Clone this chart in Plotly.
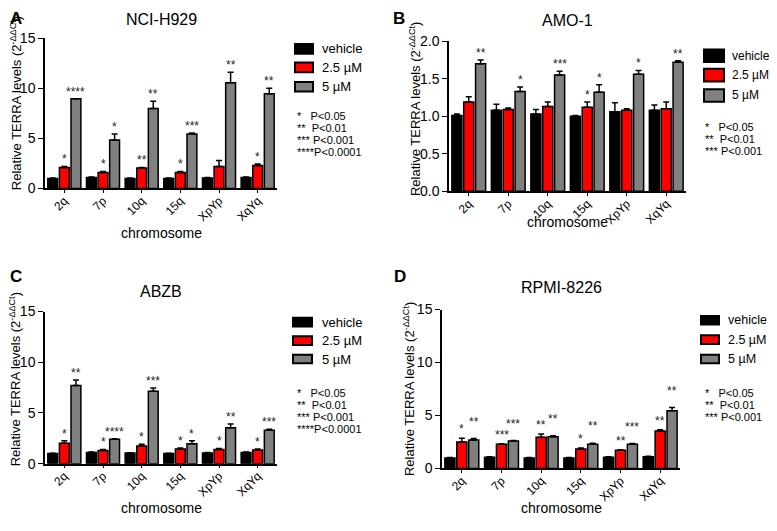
import plotly.graph_objects as go
from plotly.subplots import make_subplots

chromosomes = ["2q", "7p", "10q", "15q", "XpYp", "XqYq"]
treatments = ["vehicle", "2.5 µM", "5 µM"]
colors = ["#000000", "#ff0000", "#808080"]

# ---------- A: NCI-H929 ----------
a_vehicle = [1.0, 1.1, 1.0, 1.0, 1.05, 1.1]
a_vehicle_err = [0.05, 0.05, 0.05, 0.05, 0.05, 0.05]
a_low = [2.1, 1.6, 2.05, 1.6, 2.2, 2.3]
a_low_err = [0.1, 0.1, 0.05, 0.1, 0.6, 0.15]
a_high = [8.95, 4.85, 8.0, 5.45, 10.55, 9.45]
a_high_err = [0.0, 0.6, 0.7, 0.1, 1.05, 0.55]
a_low_stars = ["*", "*", "**", "*", "", "*"]
a_high_stars = ["****", "*", "**", "***", "**", "**"]

# ---------- B: AMO-1 ----------
b_vehicle = [1.01, 1.08, 1.03, 1.0, 1.06, 1.08]
b_vehicle_err = [0.02, 0.08, 0.06, 0.01, 0.12, 0.07]
b_low = [1.19, 1.09, 1.13, 1.12, 1.08, 1.10]
b_low_err = [0.07, 0.02, 0.06, 0.07, 0.02, 0.09]
b_high = [1.70, 1.33, 1.55, 1.32, 1.56, 1.72]
b_high_err = [0.05, 0.06, 0.05, 0.10, 0.05, 0.02]
b_low_stars = ["", "", "", "*", "", ""]
b_high_stars = ["**", "*", "***", "*", "*", "**"]

# ---------- C: ABZB ----------
c_vehicle = [1.0, 1.1, 1.05, 1.0, 1.05, 1.1]
c_vehicle_err = [0.03, 0.05, 0.03, 0.03, 0.05, 0.05]
c_low = [2.0, 1.3, 1.75, 1.45, 1.4, 1.35]
c_low_err = [0.25, 0.1, 0.15, 0.1, 0.1, 0.1]
c_high = [7.7, 2.4, 7.15, 1.95, 3.55, 3.3]
c_high_err = [0.55, 0.05, 0.3, 0.3, 0.35, 0.1]
c_low_stars = ["*", "*", "*", "*", "*", "*"]
c_high_stars = ["**", "****", "***", "*", "**", "***"]

# ---------- D: RPMI-8226 ----------
d_vehicle = [1.0, 1.05, 1.0, 1.0, 1.05, 1.1]
d_vehicle_err = [0.03, 0.05, 0.03, 0.03, 0.05, 0.05]
d_low = [2.5, 2.28, 2.95, 1.83, 1.73, 3.55]
d_low_err = [0.35, 0.05, 0.3, 0.1, 0.05, 0.1]
d_high = [2.68, 2.59, 3.0, 2.28, 2.3, 5.45]
d_high_err = [0.15, 0.05, 0.1, 0.1, 0.05, 0.3]
d_low_stars = ["*", "***", "**", "*", "**", "**"]
d_high_stars = ["**", "***", "**", "**", "***", "**"]

p_stars = ["*", "**", "***", "****"]
p_values = ["P<0.05", "P<0.01", "P<0.001", "P<0.0001"]

Y_TITLE = "Relative TERRA levels (2<sup>-ΔΔCt</sup>)"

# layout per panel, in screenshot pixels of the 777x531 window
panels = [
    dict(title="NCI-H929", letter="A",
         means=[a_vehicle, a_low, a_high], errs=[a_vehicle_err, a_low_err, a_high_err],
         stars=[a_low_stars, a_high_stars], yrange=[0, 15], dtick=5, fmt="",
         xdom=[45, 277], ydom=[186, 31], title_y=12, letter_xy=(8, 11), xt_y=232,
         yt_xy=(16, 98),
         leg=dict(x=295, w=18, h=10, rows=[42, 61, 81], tx=320, size=13),
         pv=dict(x=295, y=111, n=4), star_shift=(0, 0)),
    dict(title="AMO-1", letter="B",
         means=[b_vehicle, b_low, b_high], errs=[b_vehicle_err, b_low_err, b_high_err],
         stars=[b_low_stars, b_high_stars], yrange=[0, 2], dtick=0.5, fmt=".1f",
         xdom=[449, 686], ydom=[189, 34], title_y=13, letter_xy=(391, 11), xt_y=221,
         yt_xy=(415, 104),
         leg=dict(x=704, w=20, h=13, rows=[49, 69, 90], tx=730, size=12),
         pv=dict(x=703, y=123, n=3), star_shift=(0, 0)),
    dict(title="ABZB", letter="C",
         means=[c_vehicle, c_low, c_high], errs=[c_vehicle_err, c_low_err, c_high_err],
         stars=[c_low_stars, c_high_stars], yrange=[0, 15], dtick=5, fmt="",
         xdom=[45, 277], ydom=[470, 313], title_y=292, letter_xy=(8, 277), xt_y=516,
         yt_xy=(15, 383),
         leg=dict(x=293, w=19, h=9, rows=[324, 343, 362], tx=320, size=13),
         pv=dict(x=295, y=397, n=4), star_shift=(0, 0)),
    dict(title="RPMI-8226", letter="D",
         means=[d_vehicle, d_low, d_high], errs=[d_vehicle_err, d_low_err, d_high_err],
         stars=[d_low_stars, d_high_stars], yrange=[0, 15], dtick=5, fmt="",
         xdom=[442, 680], ydom=[475, 311], title_y=288, letter_xy=(392, 277), xt_y=516,
         yt_xy=(409, 393),
         leg=dict(x=701, w=18, h=9, rows=[322, 342, 362], tx=726, size=12.5),
         pv=dict(x=703, y=397, n=3), star_shift=(2, 10)),
]

PAGE = 8  # the html body keeps its default 8px margin
W, H = 777 - 2 * PAGE, 531 - 2 * PAGE
FONT = "Arial, Liberation Sans, sans-serif"
BARGAP, GROUPGAP = 0.1, 0.15
slot = (1 - BARGAP) / 3


def px(x, y):
    return (x - PAGE) / W, 1 - (y - PAGE) / H


def paper_text(fig, xy, text, size, xanchor="center", **kw):
    x, y = px(*xy)
    fig.add_annotation(x=x, y=y, text=text, showarrow=False, xref="paper",
                       yref="paper", font=dict(size=size), xanchor=xanchor,
                       yanchor="middle", **kw)


fig = make_subplots(rows=2, cols=2)
shapes = []

for k, p in enumerate(panels):
    row, col = k // 2 + 1, k % 2 + 1
    for i, name in enumerate(treatments):
        fig.add_trace(go.Bar(
            x=chromosomes, y=p["means"][i], name=name, showlegend=False,
            marker=dict(color=colors[i], line=dict(color="black", width=1.5)),
            error_y=dict(type="data", symmetric=False, array=p["errs"][i],
                         arrayminus=[0] * len(chromosomes),
                         color="black", thickness=1.5, width=3),
        ), row=row, col=col)

    sfx = "" if k == 0 else str(k + 1)
    xa, ya = px(p["xdom"][0], p["ydom"][0])
    xb, yb = px(p["xdom"][1], p["ydom"][1])
    fig.update_layout({"xaxis" + sfx: dict(domain=[xa, xb]),
                       "yaxis" + sfx: dict(domain=[ya, yb])})
    fig.update_yaxes(range=p["yrange"], dtick=p["dtick"], tickformat=p["fmt"],
                     row=row, col=col)

    # significance stars above the treated bars
    for j, stars in enumerate(p["stars"]):
        idx = j + 1
        offset = (idx - 1) * slot
        for c, s in enumerate(stars):
            if not s:
                continue
            top = p["means"][idx][c] + p["errs"][idx][c]
            fig.add_annotation(x=c + offset, y=top, text=s, showarrow=False,
                               yanchor="bottom", yshift=-2 + p["star_shift"][j],
                               font=dict(size=12, color="#222"),
                               xref="x" + sfx, yref="y" + sfx)

    cx = (p["xdom"][0] + p["xdom"][1]) / 2
    paper_text(fig, (cx, p["title_y"]), p["title"], 16)
    paper_text(fig, p["letter_xy"], "<b>%s</b>" % p["letter"], 17, xanchor="left")
    paper_text(fig, (cx, p["xt_y"]), "chromosome", 14)
    paper_text(fig, p["yt_xy"], Y_TITLE, 13, textangle=-90)

    # legend drawn by hand: swatches + labels
    lg = p["leg"]
    for i, name in enumerate(treatments):
        r = lg["rows"][i]
        sx0, sy0 = px(lg["x"], r + lg["h"] / 2)
        sx1, sy1 = px(lg["x"] + lg["w"], r - lg["h"] / 2)
        shapes.append(dict(type="rect", xref="paper", yref="paper",
                           x0=sx0, y0=sy0, x1=sx1, y1=sy1,
                           fillcolor=colors[i], line=dict(color="black", width=2)))
        paper_text(fig, (lg["tx"], r), name, lg["size"], xanchor="left")

    # p-value key
    pv = p["pv"]
    for n in range(pv["n"]):
        gap = "&nbsp;" * max(0, 4 - len(p_stars[n]))
        paper_text(fig, (pv["x"], pv["y"] + n * 12.3), p_stars[n] + gap + p_values[n], 11,
                   xanchor="left")

fig.update_xaxes(showline=True, linecolor="black", linewidth=1.5, ticks="outside",
                 ticklen=3, tickcolor="black", tickangle=-45, tickfont=dict(size=12),
                 ticklabelstandoff=-4, showgrid=False, range=[-0.5, 5.5])
fig.update_yaxes(showline=True, linecolor="black", linewidth=1.5, ticks="outside",
                 ticklen=5, tickcolor="black", tickfont=dict(size=14), showgrid=False,
                 zeroline=False)

fig.update_layout(
    width=W, height=H, margin=dict(l=0, r=0, t=0, b=0),
    barmode="group", bargap=BARGAP, bargroupgap=GROUPGAP,
    plot_bgcolor="white", paper_bgcolor="white", showlegend=False,
    font=dict(family=FONT, color="black"), shapes=shapes,
)

fig.write_html("out.html")
